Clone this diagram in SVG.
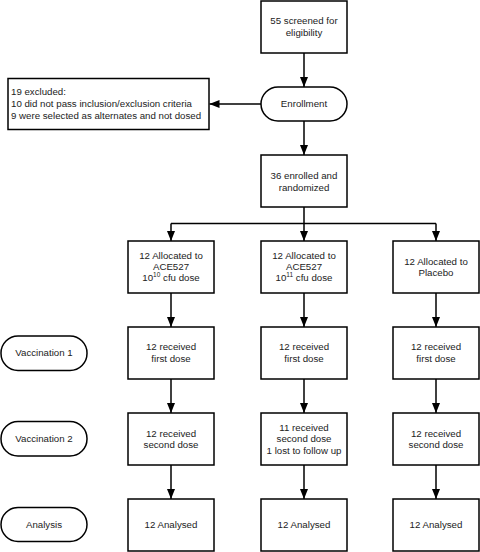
<svg xmlns="http://www.w3.org/2000/svg" width="480" height="552" viewBox="0 0 480 552">
<defs>
<marker id="ah" markerUnits="userSpaceOnUse" markerWidth="10" markerHeight="10" viewBox="0 0 10 10" refX="10" refY="5" orient="auto">
<path d="M0,1 L10,5 L0,9 Z" fill="#000"/>
</marker>
</defs>
<style>
.b{fill:#fff;stroke:#000;stroke-width:1.5}
.t{font-family:"Liberation Sans",Arial,sans-serif;font-size:9.7px;fill:#222;text-anchor:middle}
.l{font-family:"Liberation Sans",Arial,sans-serif;font-size:9.7px;fill:#222}
.c{fill:none;stroke:#000;stroke-width:1.5}
.a{marker-end:url(#ah)}
</style>
<rect width="480" height="552" fill="#fff"/>
<g id="connectors">
<path class="c a" d="M304,53 V87"/>
<path class="c a" d="M261,104 H209.5"/>
<path class="c a" d="M304,121 V155"/>
<path class="c" d="M304,207 V223.5 M171,223.5 H436"/>
<path class="c a" d="M171,223.5 V241"/>
<path class="c a" d="M304,223.5 V241"/>
<path class="c a" d="M436,223.5 V241"/>
<path class="c a" d="M171,293 V327"/>
<path class="c a" d="M304,293 V327"/>
<path class="c a" d="M436,293 V327"/>
<path class="c a" d="M171,379 V413"/>
<path class="c a" d="M304,379 V413"/>
<path class="c a" d="M436,379 V413"/>
<path class="c a" d="M171,465 V499"/>
<path class="c a" d="M304,465 V499"/>
<path class="c a" d="M436,465 V499"/>
</g>
<g id="screened"><rect class="b" x="261" y="1" width="86" height="52"/>
<text class="t" x="304" y="24">55 screened for</text><text class="t" x="304" y="36">eligibility</text></g>
<g id="enrollment"><rect class="b" x="261" y="87" width="86" height="34" rx="17"/>
<text class="t" x="304" y="107">Enrollment</text></g>
<g id="excluded"><rect class="b" x="8" y="78.5" width="201" height="51"/>
<text class="l" x="11" y="95">19 excluded:</text>
<text class="l" x="11" y="107">10 did not pass inclusion/exclusion criteria</text>
<text class="l" x="11" y="119">9 were selected as alternates and not dosed</text></g>
<g id="randomized"><rect class="b" x="261" y="155" width="86" height="52"/>
<text class="t" x="304" y="178.5">36 enrolled and</text><text class="t" x="304" y="190.5">randomized</text></g>
<g id="alloc1"><rect class="b" x="128" y="241" width="86" height="52"/>
<text class="t" x="171" y="259">12 Allocated to</text><text class="t" x="171" y="270">ACE527</text>
<text class="t" x="171" y="281">10<tspan font-size="6.5" dy="-4">10</tspan><tspan dy="4"> cfu dose</tspan></text></g>
<g id="alloc2"><rect class="b" x="261" y="241" width="86" height="52"/>
<text class="t" x="304" y="259">12 Allocated to</text><text class="t" x="304" y="270">ACE527</text>
<text class="t" x="304" y="281">10<tspan font-size="6.5" dy="-4">11</tspan><tspan dy="4"> cfu dose</tspan></text></g>
<g id="alloc3"><rect class="b" x="393" y="241" width="86" height="52"/>
<text class="t" x="436" y="264.5">12 Allocated to</text><text class="t" x="436" y="276">Placebo</text></g>
<g id="vacc1"><rect class="b" x="1" y="336" width="86" height="34.5" rx="17"/>
<text class="t" x="44" y="356">Vaccination 1</text></g>
<g id="first1"><rect class="b" x="128" y="327" width="86" height="52"/>
<text class="t" x="171" y="350">12 received</text><text class="t" x="171" y="362">first dose</text></g>
<g id="first2"><rect class="b" x="261" y="327" width="86" height="52"/>
<text class="t" x="304" y="350">12 received</text><text class="t" x="304" y="362">first dose</text></g>
<g id="first3"><rect class="b" x="393" y="327" width="86" height="52"/>
<text class="t" x="436" y="350">12 received</text><text class="t" x="436" y="362">first dose</text></g>
<g id="vacc2"><rect class="b" x="1" y="421.5" width="86" height="34.5" rx="17"/>
<text class="t" x="44" y="442">Vaccination 2</text></g>
<g id="second1"><rect class="b" x="128" y="413" width="86" height="52"/>
<text class="t" x="171" y="436.5">12 received</text><text class="t" x="171" y="448">second dose</text></g>
<g id="second2"><rect class="b" x="261" y="413" width="86" height="52"/>
<text class="t" x="304" y="430.5">11 received</text><text class="t" x="304" y="442">second dose</text><text class="t" x="304" y="454">1 lost to follow up</text></g>
<g id="second3"><rect class="b" x="393" y="413" width="86" height="52"/>
<text class="t" x="436" y="436.5">12 received</text><text class="t" x="436" y="448">second dose</text></g>
<g id="analysis"><rect class="b" x="1" y="507.5" width="86" height="34" rx="17"/>
<text class="t" x="44" y="528">Analysis</text></g>
<g id="an1"><rect class="b" x="128" y="499" width="86" height="52"/>
<text class="t" x="171" y="528">12 Analysed</text></g>
<g id="an2"><rect class="b" x="261" y="499" width="86" height="52"/>
<text class="t" x="304" y="528">12 Analysed</text></g>
<g id="an3"><rect class="b" x="393" y="499" width="86" height="52"/>
<text class="t" x="436" y="528">12 Analysed</text></g>
</svg>
